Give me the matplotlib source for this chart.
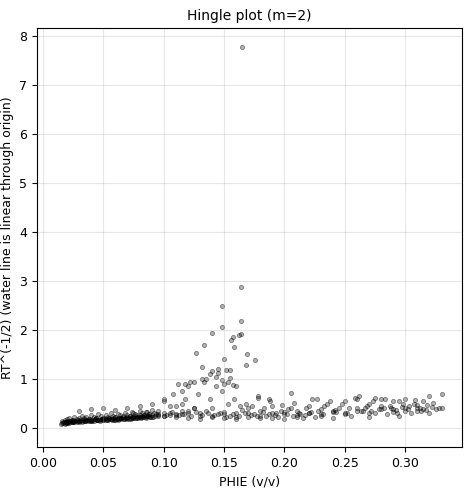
import matplotlib
matplotlib.use("Agg")
import matplotlib.pyplot as plt
plt.rcParams['font.size'] = 9

# dense low-porosity band
band_x = [0.015,0.016,0.017,0.018,0.018,0.019,0.02,0.02,0.021,0.022,0.022,0.023,0.024,0.025,0.025,0.026,0.027,0.028,0.029,0.03,
          0.031,0.032,0.033,0.034,0.035,0.036,0.037,0.038,0.039,0.04,0.041,0.042,0.043,0.044,0.045,0.046,0.047,0.048,0.049,0.05,
          0.051,0.052,0.053,0.054,0.055,0.056,0.057,0.058,0.059,0.06,0.061,0.062,0.063,0.064,0.065,0.066,0.067,0.068,0.069,0.07,
          0.071,0.072,0.073,0.074,0.075,0.076,0.077,0.078,0.079,0.08,0.081,0.082,0.083,0.084,0.085,0.086,0.087,0.088,0.089,0.09,
          0.016,0.018,0.02,0.022,0.024,0.026,0.028,0.03,0.032,0.034,0.036,0.038,0.04,0.042,0.044,0.046,0.048,0.05,0.052,0.054,
          0.056,0.058,0.06,0.062,0.064,0.066,0.068,0.07,0.072,0.074,0.076,0.078,0.08,0.082,0.084,0.086,0.088,0.09,0.092,0.094,
          0.017,0.019,0.021,0.023,0.025,0.027,0.029,0.031,0.033,0.035,0.037,0.039,0.041,0.043,0.045,0.047,0.049,0.051,0.053,0.055,
          0.057,0.059,0.061,0.063,0.065,0.067,0.069,0.071,0.073,0.075,0.077,0.079,0.081,0.083,0.085,0.087,0.089,0.091,0.093,0.095,
          0.02,0.025,0.03,0.035,0.04,0.045,0.05,0.055,0.06,0.065,0.07,0.075,0.08,0.085,0.09,0.095,0.1,0.105,0.11,0.115]
band_y = [0.08,0.1,0.12,0.09,0.13,0.11,0.1,0.14,0.12,0.11,0.15,0.13,0.12,0.14,0.16,0.12,0.15,0.13,0.17,0.14,
          0.15,0.13,0.16,0.18,0.14,0.16,0.15,0.19,0.14,0.17,0.16,0.15,0.18,0.2,0.16,0.17,0.15,0.19,0.18,0.16,
          0.2,0.17,0.18,0.16,0.21,0.19,0.17,0.2,0.18,0.22,0.19,0.17,0.21,0.2,0.18,0.23,0.19,0.21,0.2,0.22,
          0.19,0.24,0.2,0.22,0.21,0.25,0.2,0.23,0.22,0.26,0.21,0.24,0.22,0.27,0.23,0.25,0.24,0.28,0.22,0.26,
          0.14,0.16,0.18,0.2,0.17,0.22,0.19,0.21,0.25,0.2,0.23,0.18,0.26,0.22,0.2,0.28,0.24,0.21,0.27,0.23,
          0.3,0.25,0.22,0.29,0.26,0.24,0.31,0.27,0.25,0.33,0.28,0.26,0.35,0.3,0.27,0.33,0.29,0.36,0.31,0.28,
          0.11,0.13,0.12,0.14,0.13,0.15,0.14,0.16,0.15,0.14,0.17,0.16,0.15,0.18,0.17,0.16,0.19,0.18,0.17,0.2,
          0.18,0.17,0.19,0.18,0.2,0.19,0.21,0.2,0.19,0.22,0.21,0.2,0.23,0.22,0.21,0.24,0.23,0.22,0.25,0.24,
          0.1,0.12,0.13,0.15,0.14,0.17,0.16,0.18,0.17,0.2,0.19,0.21,0.22,0.24,0.23,0.26,0.25,0.27,0.26,0.28]

# scattered mid/high porosity band
wide_x = [0.03,0.04,0.05,0.06,0.07,0.075,0.08,0.085,0.09,0.095,0.1,0.1,0.105,0.11,0.11,0.115,0.12,0.12,0.125,0.13,
          0.13,0.135,0.14,0.14,0.145,0.15,0.15,0.155,0.16,0.16,0.165,0.17,0.17,0.175,0.18,0.18,0.185,0.19,0.19,0.195,
          0.2,0.2,0.205,0.21,0.21,0.215,0.22,0.22,0.225,0.23,0.23,0.235,0.24,0.24,0.245,0.25,0.25,0.255,0.26,0.26,
          0.265,0.27,0.27,0.275,0.28,0.28,0.285,0.29,0.29,0.295,0.3,0.3,0.305,0.31,0.31,0.315,0.32,0.325,0.33,0.33,
          0.1,0.105,0.11,0.115,0.12,0.125,0.13,0.14,0.15,0.16,0.17,0.18,0.19,0.2,0.21,0.22,0.23,0.24,0.25,0.26,
          0.27,0.28,0.29,0.3,0.31,0.32,0.095,0.1,0.108,0.112,0.118,0.122,0.128,0.133,0.138,0.143,0.148,0.153,0.158,0.163,
          0.168,0.173,0.178,0.183,0.188,0.193,0.198,0.203,0.208,0.213,0.218,0.223,0.228,0.233,0.238,0.243,0.248,0.253,0.258,0.263,
          0.268,0.273,0.278,0.283,0.288,0.293,0.298,0.303,0.308,0.313,0.318,0.323,0.178,0.187,0.205,0.227,0.262,0.275,0.295,0.315,
          0.102,0.107,0.113,0.117,0.123,0.127,0.132,0.137,0.142,0.147,0.152,0.157,0.162,0.167,0.172,0.177,0.182,0.187,0.192,0.197,
          0.202,0.207,0.212,0.217,0.222,0.232,0.242,0.252,0.267,0.272,0.282,0.287,0.292,0.297,0.302,0.307,0.312,0.317,0.322,0.328]
wide_y = [0.35,0.38,0.4,0.36,0.42,0.3,0.45,0.33,0.5,0.28,0.25,0.55,0.3,0.22,0.45,0.35,0.2,0.3,0.4,0.25,
          0.18,0.35,0.22,0.4,0.28,0.2,0.33,0.25,0.3,0.18,0.36,0.22,0.4,0.28,0.35,0.2,0.25,0.45,0.3,0.22,
          0.32,0.18,0.4,0.26,0.35,0.2,0.3,0.45,0.22,0.38,0.28,0.5,0.2,0.35,0.42,0.3,0.55,0.25,0.4,0.6,
          0.35,0.22,0.5,0.3,0.45,0.6,0.28,0.38,0.55,0.25,0.4,0.6,0.3,0.48,0.35,0.55,0.65,0.38,0.4,0.7,
          0.3,0.45,0.28,0.5,0.35,0.4,0.3,0.25,0.28,0.22,0.3,0.25,0.2,0.28,0.22,0.3,0.25,0.32,0.28,0.35,
          0.3,0.38,0.32,0.35,0.4,0.3,0.35,0.6,0.7,0.9,0.6,0.95,0.7,0.95,0.6,0.85,0.75,0.5,0.6,0.45,
          0.5,0.45,0.62,0.4,0.55,0.3,0.48,0.38,0.52,0.28,0.42,0.6,0.35,0.45,0.55,0.32,0.5,0.4,0.62,0.35,
          0.45,0.55,0.38,0.6,0.42,0.3,0.5,0.45,0.58,0.35,0.48,0.52,0.65,0.6,0.72,0.6,0.65,0.62,0.55,0.38,
          0.27,0.32,0.26,0.29,0.24,0.33,0.27,0.3,0.26,0.31,0.23,0.28,0.25,0.3,0.27,0.24,0.32,0.28,0.26,0.34,
          0.29,0.25,0.31,0.27,0.33,0.29,0.36,0.31,0.42,0.34,0.4,0.46,0.36,0.43,0.38,0.5,0.41,0.37,0.44,0.4]

# spike around PHIE ~0.13-0.17 and outlier
spike_x = [0.164,0.148,0.148,0.140,0.164,0.164,0.162,0.157,0.156,0.133,0.127,0.158,0.169,0.150,0.176,0.168,0.132,0.140,0.145,0.145,
           0.152,0.155,0.132,0.135,0.143,0.148,0.153,0.157,0.160,0.120,0.125,0.115,0.118,0.150,0.138,0.155,0.165]
spike_y = [2.88,2.49,2.06,1.94,2.18,1.92,1.90,1.86,1.80,1.69,1.53,1.65,1.51,1.41,1.39,1.29,1.24,1.16,1.20,1.12,
           1.18,1.18,1.0,1.0,1.05,0.98,0.95,0.88,0.85,0.85,0.95,0.75,0.9,0.9,1.1,1.02,7.78]

x = band_x + wide_x + spike_x
y = band_y + wide_y + spike_y

fig, ax = plt.subplots(figsize=(4.72, 4.92), dpi=100)
ax.scatter(x, y, s=9, facecolors=(0, 0, 0, 0.3), edgecolors=(0, 0, 0, 0.45), linewidths=0.6)
ax.set_xlabel("PHIE (v/v)")
ax.set_ylabel("RT^(-1/2) (water line is linear through origin)")
ax.set_title("Hingle plot (m=2)", fontsize=10)
ax.set_xlim(-0.005, 0.347)
ax.set_ylim(-0.39, 8.16)
ax.grid(True, alpha=0.3)
fig.subplots_adjust(left=0.078, right=0.979, top=0.943, bottom=0.091)
fig.savefig("out.png")
